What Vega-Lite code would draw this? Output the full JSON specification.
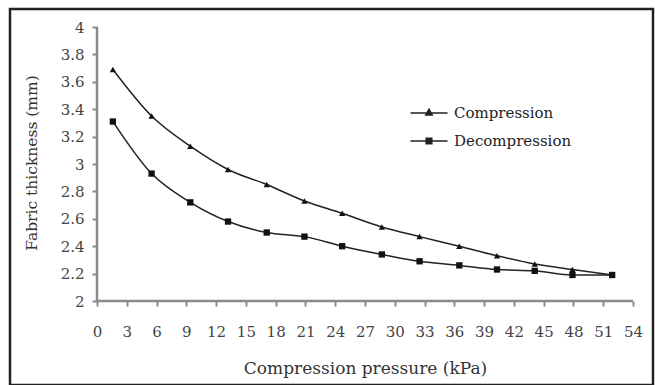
{
  "$schema": "https://vega.github.io/schema/vega-lite/v6.json",
  "width": 643,
  "height": 376,
  "autosize": {"type": "none"},
  "padding": {"left": 10, "top": 9, "right": 2, "bottom": 0},
  "background": "white",
  "config": {"view": {"stroke": "#222", "strokeWidth": 2.5}, "font": "DejaVu Serif"},
  "data": {"values": [
    {"series": "Compression", "pressure": 1.6, "thickness": 3.69},
    {"series": "Compression", "pressure": 5.5, "thickness": 3.35},
    {"series": "Compression", "pressure": 9.4, "thickness": 3.13},
    {"series": "Compression", "pressure": 13.2, "thickness": 2.96},
    {"series": "Compression", "pressure": 17.1, "thickness": 2.85},
    {"series": "Compression", "pressure": 20.9, "thickness": 2.73},
    {"series": "Compression", "pressure": 24.7, "thickness": 2.64},
    {"series": "Compression", "pressure": 28.7, "thickness": 2.54},
    {"series": "Compression", "pressure": 32.5, "thickness": 2.47},
    {"series": "Compression", "pressure": 36.5, "thickness": 2.40},
    {"series": "Compression", "pressure": 40.3, "thickness": 2.33},
    {"series": "Compression", "pressure": 44.1, "thickness": 2.27},
    {"series": "Compression", "pressure": 47.9, "thickness": 2.23},
    {"series": "Compression", "pressure": 51.9, "thickness": 2.19},
    {"series": "Decompression", "pressure": 1.6, "thickness": 3.31},
    {"series": "Decompression", "pressure": 5.5, "thickness": 2.93},
    {"series": "Decompression", "pressure": 9.4, "thickness": 2.72},
    {"series": "Decompression", "pressure": 13.2, "thickness": 2.58},
    {"series": "Decompression", "pressure": 17.1, "thickness": 2.50},
    {"series": "Decompression", "pressure": 20.9, "thickness": 2.47},
    {"series": "Decompression", "pressure": 24.7, "thickness": 2.40},
    {"series": "Decompression", "pressure": 28.7, "thickness": 2.34},
    {"series": "Decompression", "pressure": 32.5, "thickness": 2.29},
    {"series": "Decompression", "pressure": 36.5, "thickness": 2.26},
    {"series": "Decompression", "pressure": 40.3, "thickness": 2.23},
    {"series": "Decompression", "pressure": 44.1, "thickness": 2.22},
    {"series": "Decompression", "pressure": 47.9, "thickness": 2.19},
    {"series": "Decompression", "pressure": 51.9, "thickness": 2.19}
  ]},
  "layer": [
    {
      "data": {"values": [{}]},
      "mark": {"type": "rule", "color": "#8a8a8a", "strokeWidth": 2.5},
      "encoding": {
        "x": {
          "datum": 0, "type": "quantitative",
          "scale": {"domain": [-8.765, 56.015], "nice": false, "zero": false},
          "axis": {
            "values": [0, 3, 6, 9, 12, 15, 18, 21, 24, 27, 30, 33, 36, 39, 42, 45, 48, 51, 54],
            "tickCount": 100, "format": "d",
            "offset": -84, "domain": false, "grid": false,
            "tickColor": "#8a8a8a", "tickWidth": 2, "tickSize": 5,
            "labelFont": "DejaVu Serif", "labelFontSize": 15, "labelColor": "#444",
            "labelPadding": 18, "labelOverlap": false, "labelFlush": false,
            "title": "Compression pressure (kPa)",
            "titleFont": "DejaVu Serif", "titleFontSize": 17, "titleFontWeight": "normal",
            "titleColor": "#333", "titleX": 355, "titleY": 67, "titleBaseline": "middle"
          }
        },
        "x2": {"datum": 54},
        "y": {
          "datum": 2, "type": "quantitative",
          "scale": {"domain": [1.3869, 4.1314], "nice": false, "zero": false},
          "axis": {
            "values": [2, 2.2, 2.4, 2.6, 2.8, 3, 3.2, 3.4, 3.6, 3.8, 4],
            "tickCount": 100,
            "format": ".1~f",
            "offset": -87, "domain": false, "grid": false,
            "tickColor": "#8a8a8a", "tickWidth": 2, "tickSize": 5,
            "labelFont": "DejaVu Serif", "labelFontSize": 15, "labelColor": "#444",
            "labelPadding": 8, "labelOverlap": false,
            "title": "Fabric thickness (mm)",
            "titleFont": "DejaVu Serif", "titleFontSize": 15.5, "titleFontWeight": "normal",
            "titleColor": "#333", "titleX": -66, "titleY": 153.5, "titleBaseline": "middle"
          }
        }
      }
    },
    {
      "data": {"values": [{}]},
      "mark": {"type": "rule", "color": "#8a8a8a", "strokeWidth": 2.5},
      "encoding": {
        "x": {"datum": 0, "type": "quantitative"},
        "y": {"datum": 2, "type": "quantitative"},
        "y2": {"datum": 4}
      }
    },
    {
      "mark": {"type": "line", "interpolate": "monotone", "strokeWidth": 1.5},
      "encoding": {
        "x": {"field": "pressure", "type": "quantitative"},
        "y": {"field": "thickness", "type": "quantitative"},
        "color": {
          "field": "series", "type": "nominal",
          "scale": {"domain": ["Compression", "Decompression"], "range": ["#222", "#222"]},
          "legend": {
            "orient": "none", "legendX": 408, "legendY": 93, "title": null,
            "symbolType": "M-1.85,0H1.85M-0.3,-0.3H0.3V0.3H-0.3Z",
            "symbolSize": 400, "symbolStrokeWidth": 1.5,
            "labelFont": "DejaVu Serif", "labelFontSize": 15, "labelColor": "#222",
            "labelOffset": 14, "rowPadding": 9,
            "encode": {"symbols": {"update": {
              "fill": {"value": "#222"},
              "stroke": {"value": "#222"},
              "shape": {"signal": "datum.value === 'Compression' ? 'M-1.85,0H1.85M0,-0.38L0.32,0.2H-0.32Z' : 'M-1.85,0H1.85M-0.28,-0.28H0.28V0.28H-0.28Z'"}
            }}}
          }
        }
      }
    },
    {
      "transform": [{"filter": "datum.series === 'Compression'"}],
      "mark": {"type": "point", "filled": true, "opacity": 1, "color": "#111", "shape": "triangle-up", "size": 40},
      "encoding": {
        "x": {"field": "pressure", "type": "quantitative"},
        "y": {"field": "thickness", "type": "quantitative"}
      }
    },
    {
      "transform": [{"filter": "datum.series === 'Decompression'"}],
      "mark": {"type": "point", "filled": true, "opacity": 1, "color": "#111", "shape": "square", "size": 40},
      "encoding": {
        "x": {"field": "pressure", "type": "quantitative"},
        "y": {"field": "thickness", "type": "quantitative"}
      }
    }
  ]
}
